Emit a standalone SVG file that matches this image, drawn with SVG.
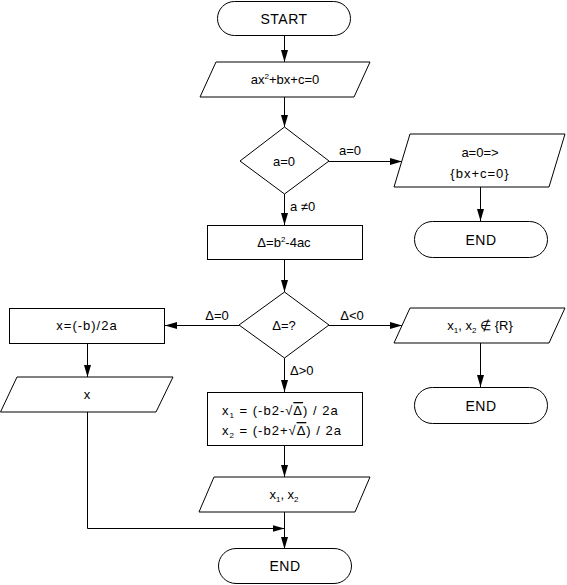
<svg xmlns="http://www.w3.org/2000/svg" width="567" height="585" viewBox="0 0 567 585">
<defs>
<style>
.s{fill:#fff;stroke:#000;stroke-width:1}
.c{fill:none;stroke:#000;stroke-width:1}
text{font-family:"Liberation Sans",Arial,sans-serif;font-size:13px;fill:#000;text-anchor:middle}
.t{font-size:14px;letter-spacing:0.5px}
.l{text-anchor:start}
.w{letter-spacing:1px}
.sm{font-size:8px}
.ov{text-decoration:overline}
</style>
<marker id="ah" markerUnits="userSpaceOnUse" markerWidth="12" markerHeight="7" refX="12" refY="3.5" orient="auto">
<path d="M0,0 L12,3.5 L0,7 z" fill="#000"/>
</marker>
</defs>
<g id="connectors">
<line class="c" x1="284.5" y1="35" x2="284.5" y2="62" marker-end="url(#ah)"/>
<line class="c" x1="284.5" y1="97" x2="284.5" y2="127" marker-end="url(#ah)"/>
<line class="c" x1="329" y1="161.5" x2="402" y2="161.5" marker-end="url(#ah)"/>
<line class="c" x1="480.5" y1="187" x2="480.5" y2="221" marker-end="url(#ah)"/>
<line class="c" x1="284.5" y1="194" x2="284.5" y2="225" marker-end="url(#ah)"/>
<line class="c" x1="284.5" y1="259" x2="284.5" y2="292" marker-end="url(#ah)"/>
<line class="c" x1="239" y1="325.5" x2="165" y2="325.5" marker-end="url(#ah)"/>
<line class="c" x1="329" y1="325.5" x2="402" y2="325.5" marker-end="url(#ah)"/>
<line class="c" x1="480.5" y1="343" x2="480.5" y2="387" marker-end="url(#ah)"/>
<line class="c" x1="284.5" y1="358" x2="284.5" y2="392" marker-end="url(#ah)"/>
<line class="c" x1="87.5" y1="343" x2="87.5" y2="377" marker-end="url(#ah)"/>
<line class="c" x1="284.5" y1="446" x2="284.5" y2="477" marker-end="url(#ah)"/>
<line class="c" x1="284.5" y1="512" x2="284.5" y2="549" marker-end="url(#ah)"/>
<polyline class="c" points="87.5,412 87.5,528.5 284.5,528.5" marker-end="url(#ah)"/>
<text x="350" y="155">a=0</text>
<text class="l" x="290" y="211">a ≠0</text>
<text x="217" y="320">Δ=0</text>
<text x="352" y="320">Δ&lt;0</text>
<text class="l" x="290" y="375">Δ&gt;0</text>
</g>
<g id="start">
<rect class="s" x="217.5" y="1.5" width="133" height="34" rx="17"/>
<text class="t" x="284" y="23.5">START</text>
</g>
<g id="input">
<polygon class="s" points="216,62 370,62 354,97 200,97"/>
<text x="285" y="84">ax<tspan class="sm" dy="-5">2</tspan><tspan dy="5">+bx+c=0</tspan></text>
</g>
<g id="decision-a">
<polygon class="s" points="284.5,127 329,161 284.5,194 240,161"/>
<text x="284" y="166">a=0</text>
</g>
<g id="linear">
<polygon class="s" points="410,134 565,134 549,187 394,187"/>
<text x="480" y="157">a=0=&gt;</text>
<text class="w" x="480" y="178">{bx+c=0}</text>
</g>
<g id="end1">
<rect class="s" x="414.5" y="221.5" width="133" height="36" rx="18"/>
<text class="t" x="481" y="245">END</text>
</g>
<g id="delta">
<rect class="s" x="207.5" y="225.5" width="155" height="34"/>
<text x="284" y="247">Δ=b<tspan class="sm" dy="-5">2</tspan><tspan dy="5">-4ac</tspan></text>
</g>
<g id="decision-delta">
<polygon class="s" points="284.5,292 329,325 284.5,358 239,325"/>
<text x="284" y="330">Δ=?</text>
</g>
<g id="one-root">
<rect class="s" x="9.5" y="308.5" width="155" height="35"/>
<text class="w" x="87" y="330">x=(-b)/2a</text>
</g>
<g id="no-real">
<polygon class="s" points="410,308 565,308 549,343 394,343"/>
<text x="480" y="330">x<tspan class="sm" dy="3">1</tspan><tspan dy="-3">, x</tspan><tspan class="sm" dy="3">2</tspan><tspan dy="-3"> ∉ {R}</tspan></text>
</g>
<g id="end2">
<rect class="s" x="414.5" y="387.5" width="133" height="36" rx="18"/>
<text class="t" x="481" y="411">END</text>
</g>
<g id="two-roots">
<rect class="s" x="207.5" y="392.5" width="155" height="53"/>
<text class="l w" x="222" y="415">x<tspan class="sm" dy="3">1</tspan><tspan dy="-3"> = (-b2-√</tspan><tspan class="ov">Δ</tspan><tspan>) / 2a</tspan></text>
<text class="l w" x="222" y="435">x<tspan class="sm" dy="3">2</tspan><tspan dy="-3"> = (-b2+√</tspan><tspan class="ov">Δ</tspan><tspan>) / 2a</tspan></text>
</g>
<g id="out-x">
<polygon class="s" points="17,377 173,377 156,412 0.5,412"/>
<text x="87" y="399">x</text>
</g>
<g id="out-x12">
<polygon class="s" points="214,477 370,477 355,512 199,512"/>
<text x="284" y="499">x<tspan class="sm" dy="3">1</tspan><tspan dy="-3">, x</tspan><tspan class="sm" dy="3">2</tspan></text>
</g>
<g id="end3">
<rect class="s" x="218.5" y="548.5" width="133" height="35" rx="17.5"/>
<text class="t" x="285" y="571">END</text>
</g>
</svg>
